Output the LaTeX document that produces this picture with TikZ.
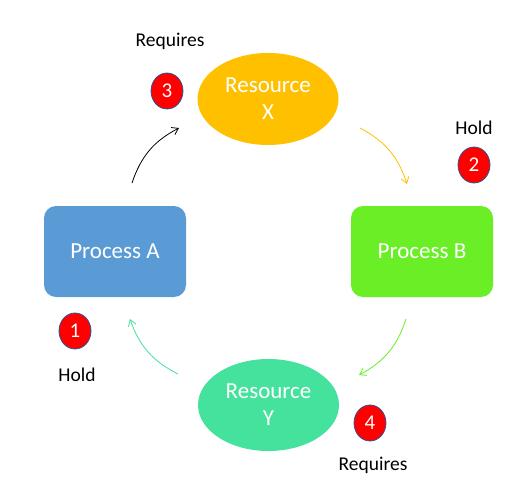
\documentclass[tikz,border=0pt]{standalone}
\usepackage{fontspec}
\setmainfont{Carlito}
\usetikzlibrary{shapes.geometric,arrows.meta}
\definecolor{procA}{HTML}{5B9BD5}
\definecolor{procB}{HTML}{6AEF27}
\definecolor{resX}{HTML}{FFC000}
\definecolor{resY}{HTML}{44E29C}
\definecolor{badgeRed}{HTML}{FF0000}
\definecolor{badgeLine}{HTML}{2F5597}
\tikzset{
  procbox/.style={draw=none, rounded corners=12pt, minimum width=142pt, minimum height=91pt,
    text=white, font=\fontsize{23}{26}\selectfont, inner sep=0pt},
  resell/.style={ellipse, draw=none, minimum width=141pt, minimum height=92pt, inner sep=0pt,
    text=white, font=\fontsize{23}{27}\selectfont, align=center},
  badge/.style={ellipse, fill=badgeRed, draw=badgeLine, line width=0.8pt, minimum width=32pt,
    minimum height=36pt, inner sep=0pt, text=white, font=\fontsize{21}{22}\selectfont},
  lbl/.style={font=\fontsize{19.5}{22}\selectfont, text=black, inner sep=0pt},
  flow/.style={line width=0.8pt, -{Straight Barb[length=6pt,width=8pt]}, bend left=22},
}
\begin{document}
\begin{tikzpicture}[x=1pt,y=-1pt]
\useasboundingbox (0,0) rectangle (525,492);
\fill[white] (0,0) rectangle (525,492);
% main nodes
\node[procbox, fill=procA] (pa) at (115,251.5) {Process A};
\node[procbox, fill=procB] (pb) at (422,251.5) {Process B};
\node[resell, fill=resX] (rx) at (268,99) {Resource\\X};
\node[resell, fill=resY] (ry) at (268.5,405) {Resource\\Y};
% badges
\node[badge] (b3) at (167,91) {3};
\node[badge] (b2) at (474,165) {2};
\node[badge] (b1) at (75,331) {1};
\node[badge] (b4) at (370,423) {4};
% labels
\node[lbl] (l3) at (170,41) {Requires};
\node[lbl] (l2) at (474,128) {Hold};
\node[lbl] (l1) at (77,375) {Hold};
\node[lbl] (l4) at (373,465) {Requires};
% arrow end points
\coordinate (a1s) at (132,183);
\coordinate (a1e) at (179,128);
\coordinate (a2s) at (360,128);
\coordinate (a2e) at (407,184);
\coordinate (a3s) at (406,319);
\coordinate (a3e) at (359,375);
\coordinate (a4s) at (178,374);
\coordinate (a4e) at (130,319);
\draw[flow, draw=black] (a1s) to (a1e);
\draw[flow, draw=resX] (a2s) to (a2e);
\draw[flow, draw=procB] (a3s) to (a3e);
\draw[flow, draw=resY] (a4s) to (a4e);
\end{tikzpicture}
\end{document}
